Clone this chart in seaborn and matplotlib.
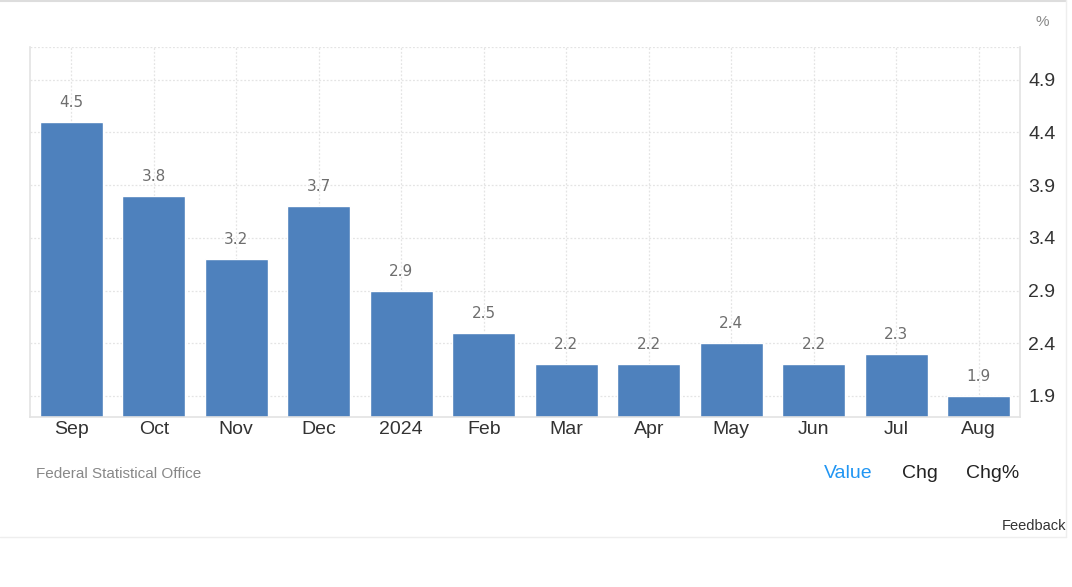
import matplotlib
matplotlib.use("Agg")
import matplotlib.pyplot as plt
import seaborn as sns
import pandas as pd
from matplotlib.lines import Line2D

months = ["Sep", "Oct", "Nov", "Dec", "2024", "Feb", "Mar", "Apr", "May", "Jun", "Jul", "Aug"]
values = [4.5, 3.8, 3.2, 3.7, 2.9, 2.5, 2.2, 2.2, 2.4, 2.2, 2.3, 1.9]
yticks = [1.9, 2.4, 2.9, 3.4, 3.9, 4.4, 4.9]

df = pd.DataFrame({"month": months, "value": values})

sns.set_theme(style="white")
plt.rcParams["font.family"] = ["Liberation Sans", "DejaVu Sans"]

fig = plt.figure(figsize=(10.72, 5.87), dpi=100)
ax = fig.add_axes([30 / 1072, 1 - 417 / 587, 990 / 1072, 370 / 587])

ax.set_ylim(1.70, 5.21)
grid_kw = dict(color="#e4e4e4", linestyle=(0, (1.5, 1.5)), linewidth=0.9, zorder=0)
for y in yticks + [5.21]:
    ax.axhline(y, **grid_kw)
for i in range(len(months)):
    ax.axvline(i, **grid_kw)

sns.barplot(data=df, x="month", y="value", order=months, color="#4E81BD",
            saturation=1, width=0.76, ax=ax, zorder=2)

for i, v in enumerate(values):
    ax.annotate(f"{v:.1f}", (i, v), xytext=(0, 8.5), textcoords="offset points",
                ha="center", va="bottom", fontsize=11, color="#6e6e6e",
                family="DejaVu Sans")

ax.set_xlim(-0.5, len(months) - 0.5)
ax.yaxis.tick_right()
ax.set_yticks(yticks)
ax.set_yticklabels([f"{t:.1f}" for t in yticks])
ax.tick_params(axis="y", length=0, labelsize=14, labelcolor="#333333", pad=6)
ax.tick_params(axis="x", length=0, labelsize=14, labelcolor="#333333", pad=3)
ax.set_xlabel("")
ax.set_ylabel("")

ax.spines["top"].set_visible(False)
for s in ["left", "bottom", "right"]:
    ax.spines[s].set_color("#e3e3e3")
    ax.spines[s].set_linewidth(1.2)

# outer frame lines
fig.add_artist(Line2D([0, 1066 / 1072], [1 - 1 / 587, 1 - 1 / 587], color="#dddddd", lw=1.5))
fig.add_artist(Line2D([1066 / 1072, 1066 / 1072], [1, 1 - 537 / 587], color="#eeeeee", lw=1))
fig.add_artist(Line2D([0, 1066 / 1072], [1 - 537 / 587, 1 - 537 / 587], color="#eeeeee", lw=1))

fig.text(1042 / 1072, 1 - 22 / 587, "%", ha="center", va="center", fontsize=11, color="#888888")
fig.text(36 / 1072, 1 - 474 / 587, "Federal Statistical Office", ha="left", va="center",
         fontsize=11, color="#888888")
fig.text(848 / 1072, 1 - 474 / 587, "Value", ha="center", va="center", fontsize=14, color="#2196F3")
fig.text(920 / 1072, 1 - 474 / 587, "Chg", ha="center", va="center", fontsize=14, color="#222222")
fig.text(993 / 1072, 1 - 474 / 587, "Chg%", ha="center", va="center", fontsize=14, color="#222222")
fig.text(1066 / 1072, 1 - 526 / 587, "Feedback", ha="right", va="center", fontsize=10.5, color="#333333")

fig.savefig("out.png", dpi=100)
